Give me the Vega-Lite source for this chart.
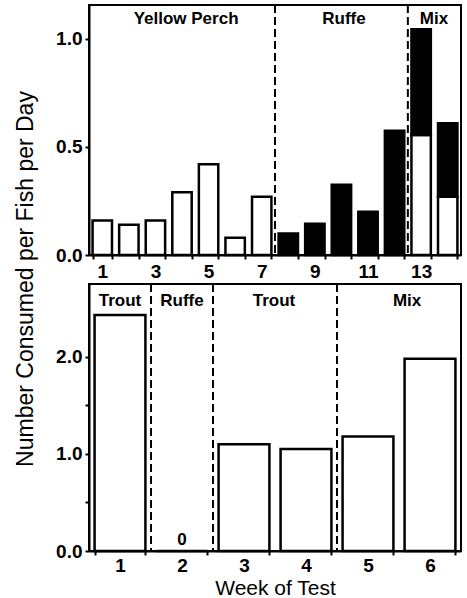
{
  "$schema": "https://vega.github.io/schema/vega-lite/v6.json",
  "background": "white",
  "padding": {"left": 12, "top": 3, "right": 2, "bottom": 0},
  "config": {
    "font": "Liberation Sans",
    "view": {"stroke": "black", "strokeWidth": 2},
    "axis": {
      "grid": false,
      "domainColor": "black",
      "domainWidth": 2,
      "tickColor": "black",
      "tickWidth": 2,
      "tickSize": 4,
      "labelColor": "black",
      "labelFont": "Liberation Sans",
      "labelFontSize": 19,
      "labelFontWeight": "bold",
      "labelPadding": 3,
      "titleColor": "black",
      "titleFont": "Liberation Sans",
      "titleFontSize": 23,
      "titleFontWeight": "normal"
    }
  },
  "datasets": {
    "top": [
      {"week": 1, "prey": "Perch", "value": 0.16},
      {"week": 2, "prey": "Perch", "value": 0.14},
      {"week": 3, "prey": "Perch", "value": 0.16},
      {"week": 4, "prey": "Perch", "value": 0.29},
      {"week": 5, "prey": "Perch", "value": 0.42},
      {"week": 6, "prey": "Perch", "value": 0.08},
      {"week": 7, "prey": "Perch", "value": 0.27},
      {"week": 8, "prey": "Ruffe", "value": 0.10},
      {"week": 9, "prey": "Ruffe", "value": 0.145},
      {"week": 10, "prey": "Ruffe", "value": 0.325},
      {"week": 11, "prey": "Ruffe", "value": 0.20},
      {"week": 12, "prey": "Ruffe", "value": 0.575},
      {"week": 13, "prey": "Perch", "value": 0.555},
      {"week": 13, "prey": "Ruffe", "value": 0.49},
      {"week": 14, "prey": "Perch", "value": 0.27},
      {"week": 14, "prey": "Ruffe", "value": 0.34}
    ],
    "topDividers": [{"week": 7}, {"week": 12}],
    "topLabels": [
      {"label": "Yellow Perch", "week": 4},
      {"label": "Ruffe", "week": 10},
      {"label": "Mix", "week": 13}
    ],
    "bottom": [
      {"week": 1, "value": 2.43},
      {"week": 2, "value": 0},
      {"week": 3, "value": 1.10},
      {"week": 4, "value": 1.05},
      {"week": 5, "value": 1.18},
      {"week": 6, "value": 1.98}
    ],
    "bottomDividers": [{"week": 1}, {"week": 2}, {"week": 4}],
    "bottomLabels": [
      {"label": "Trout", "week": 1},
      {"label": "Ruffe", "week": 2},
      {"label": "Trout", "week": 3},
      {"label": "Mix", "week": 6}
    ]
  },
  "spacing": 29,
  "bounds": "flush",
  "vconcat": [
    {
      "width": 372,
      "height": 250,
      "layer": [
        {
          "data": {"name": "top"},
          "mark": {"type": "bar", "stroke": "black", "strokeWidth": 2.5},
          "encoding": {
            "x": {
              "field": "week",
              "type": "ordinal",
              "scale": {"paddingInner": 0.27, "paddingOuter": 0.135},
              "axis": {
                "title": null,
                "labelAngle": 0,
                "tickBand": "extent",
                "labelExpr": "datum.value % 2 == 1 ? datum.label : ''"
              }
            },
            "y": {
              "field": "value",
              "type": "quantitative",
              "stack": "zero",
              "scale": {"domain": [0, 1.157], "nice": false},
              "axis": {
                "values": [0, 0.5, 1],
                "format": ".1f",
                "title": "Number Consumed per Fish per Day",
                "titleX": -52,
                "titleY": 273.5
              }
            },
            "color": {
              "field": "prey",
              "type": "nominal",
              "scale": {"domain": ["Perch", "Ruffe"], "range": ["white", "black"]},
              "legend": null
            },
            "order": {"field": "prey", "type": "ordinal", "sort": "ascending"}
          }
        },
        {
          "data": {"name": "topDividers"},
          "mark": {"type": "rule", "color": "black", "strokeWidth": 2, "strokeDash": [8, 4]},
          "encoding": {
            "x": {"field": "week", "type": "ordinal", "bandPosition": 1.185}
          }
        },
        {
          "data": {"name": "topLabels"},
          "transform": [{"filter": "datum.label == 'Yellow Perch'"}],
          "mark": {"type": "text", "fontSize": 17, "fontWeight": "bold", "baseline": "middle", "color": "black"},
          "encoding": {
            "x": {"field": "week", "type": "ordinal", "bandPosition": 0.71},
            "y": {"datum": 1.09, "type": "quantitative"},
            "text": {"field": "label"}
          }
        },
        {
          "data": {"name": "topLabels"},
          "transform": [{"filter": "datum.label == 'Ruffe'"}],
          "mark": {"type": "text", "fontSize": 17, "fontWeight": "bold", "baseline": "middle", "color": "black"},
          "encoding": {
            "x": {"field": "week", "type": "ordinal", "bandPosition": 0.63},
            "y": {"datum": 1.09, "type": "quantitative"},
            "text": {"field": "label"}
          }
        },
        {
          "data": {"name": "topLabels"},
          "transform": [{"filter": "datum.label == 'Mix'"}],
          "mark": {"type": "text", "fontSize": 17, "fontWeight": "bold", "baseline": "middle", "color": "black"},
          "encoding": {
            "x": {"field": "week", "type": "ordinal", "bandPosition": 1.165},
            "y": {"datum": 1.09, "type": "quantitative"},
            "text": {"field": "label"}
          }
        }
      ]
    },
    {
      "width": 372,
      "height": 267,
      "layer": [
        {
          "data": {"name": "bottom"},
          "mark": {"type": "bar", "fill": "white", "stroke": "black", "strokeWidth": 2.5},
          "encoding": {
            "x": {
              "field": "week",
              "type": "ordinal",
              "scale": {"paddingInner": 0.18, "paddingOuter": 0.09},
              "axis": {
                "title": "Week of Test",
                "titleFontSize": 21,
                "labelAngle": 0,
                "tickBand": "extent",
                "labelPadding": 1,
                "titlePadding": 2
              }
            },
            "y": {
              "field": "value",
              "type": "quantitative",
              "scale": {"domain": [0, 2.75], "nice": false},
              "axis": {
                "values": [0, 0.5, 1, 1.5, 2],
                "labelExpr": "datum.value % 1 == 0 ? format(datum.value, '.1f') : ''",
                "title": null
              }
            }
          }
        },
        {
          "data": {"name": "bottomDividers"},
          "mark": {"type": "rule", "color": "black", "strokeWidth": 2, "strokeDash": [8, 4]},
          "encoding": {
            "x": {"field": "week", "type": "ordinal", "bandPosition": 1.11}
          }
        },
        {
          "data": {"name": "bottomLabels"},
          "transform": [{"filter": "datum.week <= 2"}],
          "mark": {"type": "text", "fontSize": 17, "fontWeight": "bold", "baseline": "middle", "color": "black"},
          "encoding": {
            "x": {"field": "week", "type": "ordinal", "bandPosition": 0.5},
            "y": {"datum": 2.57, "type": "quantitative"},
            "text": {"field": "label"}
          }
        },
        {
          "data": {"name": "bottomLabels"},
          "transform": [{"filter": "datum.week == 3"}],
          "mark": {"type": "text", "fontSize": 17, "fontWeight": "bold", "baseline": "middle", "color": "black"},
          "encoding": {
            "x": {"field": "week", "type": "ordinal", "bandPosition": 1.09},
            "y": {"datum": 2.57, "type": "quantitative"},
            "text": {"field": "label"}
          }
        },
        {
          "data": {"name": "bottomLabels"},
          "transform": [{"filter": "datum.week == 6"}],
          "mark": {"type": "text", "fontSize": 17, "fontWeight": "bold", "baseline": "middle", "color": "black"},
          "encoding": {
            "x": {"field": "week", "type": "ordinal", "bandPosition": 0.05},
            "y": {"datum": 2.57, "type": "quantitative"},
            "text": {"field": "label"}
          }
        },
        {
          "data": {"name": "bottom"},
          "transform": [{"filter": "datum.value == 0"}],
          "mark": {"type": "text", "fontSize": 17, "fontWeight": "bold", "baseline": "middle", "dy": -11, "color": "black"},
          "encoding": {
            "x": {"field": "week", "type": "ordinal", "bandPosition": 0.5},
            "y": {"field": "value", "type": "quantitative"},
            "text": {"field": "value", "type": "quantitative"}
          }
        }
      ]
    }
  ]
}
